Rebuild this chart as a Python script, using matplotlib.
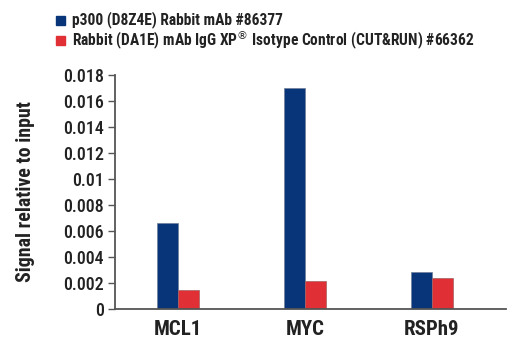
import matplotlib
matplotlib.use("Agg")
import matplotlib.pyplot as plt
import numpy as np

plt.rcParams["font.family"] = ["Roboto Condensed", "DejaVu Sans"]

categories = ["MCL1", "MYC", "RSPh9"]
p300_values = [0.0066, 0.0170, 0.00285]
igg_values = [0.00146, 0.00215, 0.00238]
series_labels = ["p300 (D8Z4E) Rabbit mAb #86377",
                 "Rabbit (DA1E) mAb IgG XP$^{\u00ae}$ Isotype Control (CUT&RUN) #66362"]
yticks = [0, 0.002, 0.004, 0.006, 0.008, 0.01, 0.012, 0.014, 0.016, 0.018]
ytick_labels = ["0", "0.002", "0.004", "0.006", "0.008", "0.01", "0.012", "0.014", "0.016", "0.018"]

blue = "#08357A"
red = "#E03035"
axis_color = "#555555"
text_color = "#222222"

fig = plt.figure(figsize=(5.2, 3.5), dpi=100)
ax = fig.add_axes([115 / 520, 1 - 309 / 350, (506 - 115) / 520, (309 - 75) / 350])

x = np.arange(len(categories))
w = 0.165
ax.bar(x - w / 2, p300_values, w, color=blue, edgecolor="#6f7f99", linewidth=0.5)
ax.bar(x + w / 2, igg_values, w, color=red, edgecolor="#a06060", linewidth=0.5)

ax.set_xlim(-0.496, 2.583)
ax.set_ylim(0, 0.018)
ax.set_yticks(yticks)
ax.set_yticklabels(ytick_labels, fontsize=13, fontweight="medium")
ax.set_xticks(x)
ax.set_xticklabels(categories, fontsize=15, fontweight="bold", color=text_color)
ax.tick_params(axis="x", length=0, pad=8)
ax.tick_params(axis="y", length=5, width=1, color=axis_color, pad=3, labelcolor=text_color)
for s in ["top", "right"]:
    ax.spines[s].set_visible(False)
for s in ["left", "bottom"]:
    ax.spines[s].set_color(axis_color)
    ax.spines[s].set_linewidth(1.3)

ax.set_ylabel("Signal relative to input", fontsize=14.3, fontweight="bold", color=text_color, va="center")
ax.yaxis.set_label_coords(-0.228, 0.5)

# legend rows drawn as squares with labels in figure coordinates
for i, (lab, col) in enumerate(zip(series_labels, [blue, red])):
    yc = 1 - (20 + 20 * i) / 350
    fig.patches.append(plt.Rectangle((56 / 520, yc - 4.5 / 350), 9 / 520, 9 / 350,
                                     transform=fig.transFigure, color=col))
    fig.text(72 / 520, yc, lab, fontsize=11.2, fontweight="bold", color=text_color,
             va="center", ha="left")

fig.savefig("out.png", dpi=100)
